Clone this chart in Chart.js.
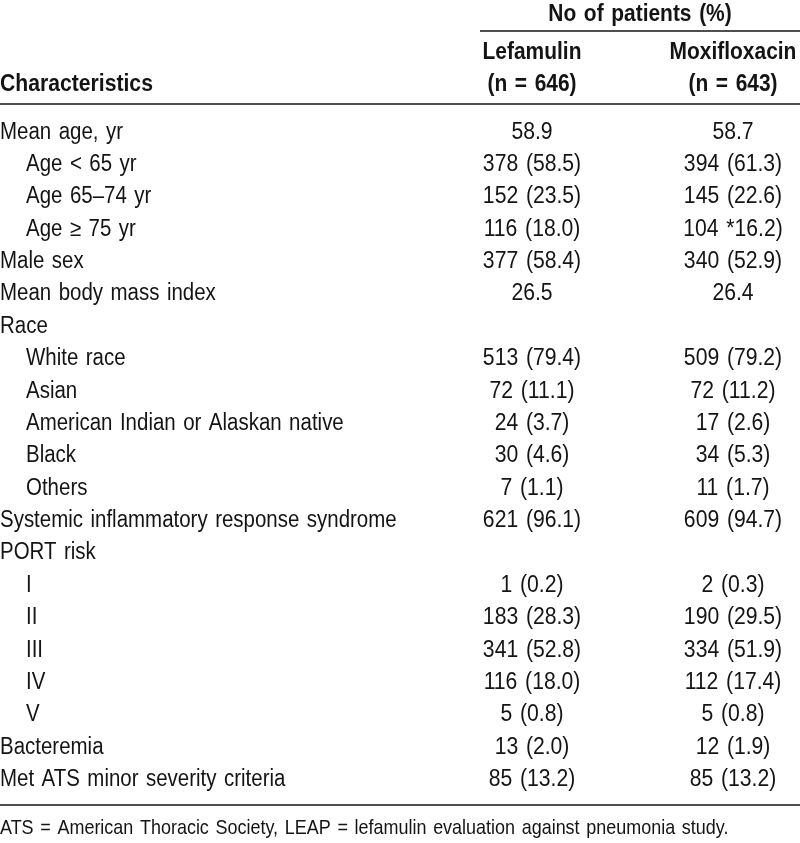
<!DOCTYPE html>
<html>
<head>
<meta charset="utf-8">
<script src="https://cdn.jsdelivr.net/npm/chart.js@4/dist/chart.umd.min.js"></script>
<style>
  html, body { margin: 0; padding: 0; background: #fff; }
  #wrap { width: 800px; height: 843px; position: relative; }
</style>
</head>
<body>
<div id="wrap"><canvas id="tableChart"></canvas></div>
<script>
"use strict"

// row labels (leading spaces = indented sub row)
const rowLabels = [
  'Mean age, yr',
  '  Age < 65 yr',
  '  Age 65–74 yr',
  '  Age ≥ 75 yr',
  'Male sex',
  'Mean body mass index',
  'Race',
  '  White race',
  '  Asian',
  '  American Indian or Alaskan native',
  '  Black',
  '  Others',
  'Systemic inflammatory response syndrome',
  'PORT risk',
  '  I',
  '  II',
  '  III',
  '  IV',
  '  V',
  'Bacteremia',
  'Met ATS minor severity criteria'
];

const lefamulin = [
  '58.9', '378 (58.5)', '152 (23.5)', '116 (18.0)', '377 (58.4)', '26.5',
  '', '513 (79.4)', '72 (11.1)', '24 (3.7)', '30 (4.6)', '7 (1.1)',
  '621 (96.1)', '', '1 (0.2)', '183 (28.3)', '341 (52.8)', '116 (18.0)', '5 (0.8)',
  '13 (2.0)', '85 (13.2)'
];

const moxifloxacin = [
  '58.7', '394 (61.3)', '145 (22.6)', '104 *16.2)', '340 (52.9)', '26.4',
  '', '509 (79.2)', '72 (11.2)', '17 (2.6)', '34 (5.3)', '11 (1.7)',
  '609 (94.7)', '', '2 (0.3)', '190 (29.5)', '334 (51.9)', '112 (17.4)', '5 (0.8)',
  '12 (1.9)', '85 (13.2)'
];

const groupTitle = 'No of patients (%)';
const columnNames = ['Lefamulin', 'Moxifloxacin'];
const columnCounts = ['(n = 646)', '(n = 643)'];
const stubTitle = 'Characteristics';
const footnote = 'ATS = American Thoracic Society, LEAP = lefamulin evaluation against pneumonia study.';

const FONT = '"Liberation Sans", Arial, sans-serif';
const INK = '#141414';

const toPoints = (col, values) => values.map((v, i) => ({ x: col, y: rowLabels[i], text: v }));

// Arial squeezed sideways, close to the condensed face of the original
function narrowText(ctx, text, x, y, align, squeeze) {
  ctx.save();
  ctx.translate(x, y);
  ctx.scale(squeeze, 1);
  ctx.textAlign = align;
  ctx.fillText(text, 0, 0);
  ctx.restore();
}

const tablePlugin = {
  id: 'tableText',
  afterDatasetsDraw(chart) {
    const ctx = chart.ctx;
    const ys = chart.scales.y;
    ctx.save();
    ctx.fillStyle = INK;
    ctx.font = '23px ' + FONT;
    ctx.textBaseline = 'middle';
    try { ctx.wordSpacing = '2px'; } catch (e) {}

    // stub column
    rowLabels.forEach((label, i) => {
      const sub = label.startsWith(' ');
      narrowText(ctx, label.trim(), sub ? 26 : 0, ys.getPixelForValue(i) + 1, 'left', 0.89);
    });

    // cells
    chart.data.datasets.forEach((ds, di) => {
      chart.getDatasetMeta(di).data.forEach((el, i) => {
        const t = ds.data[i].text;
        if (t) narrowText(ctx, t, el.x, el.y + 1, 'center', 0.92);
      });
    });
    ctx.restore();
  },
  afterDraw(chart) {
    const ctx = chart.ctx;
    const area = chart.chartArea;
    const xs = chart.scales.x;
    const top = area.top;
    ctx.save();
    ctx.fillStyle = INK;
    ctx.strokeStyle = INK;
    ctx.lineWidth = 1.6;

    const line = (x0, x1, y) => {
      ctx.beginPath();
      ctx.moveTo(x0, y);
      ctx.lineTo(x1, y);
      ctx.stroke();
    };
    line(480, area.right, top - 84);
    line(0, area.right, top - 11);
    line(0, area.right, area.bottom + 10);

    // headers
    ctx.font = 'bold 23px ' + FONT;
    ctx.textBaseline = 'middle';
    try { ctx.wordSpacing = '2px'; } catch (e) {}
    narrowText(ctx, groupTitle, (480 + area.right) / 2, top - 100, 'center', 0.91);
    columnNames.forEach((name, i) => {
      const x = xs.getPixelForValue(i);
      narrowText(ctx, name, x, top - 62, 'center', 0.91);
      narrowText(ctx, columnCounts[i], x, top - 30, 'center', 0.91);
    });
    narrowText(ctx, stubTitle, 0, top - 30, 'left', 0.92);

    // footnote
    ctx.font = '21px ' + FONT;
    narrowText(ctx, footnote, 0, area.bottom + 33, 'left', 0.855);
    ctx.restore();
  }
};

new Chart(document.getElementById('tableChart'), {
  type: 'scatter',
  data: {
    datasets: [
      { label: columnNames[0], data: toPoints(0, lefamulin), pointRadius: 0, pointHoverRadius: 0 },
      { label: columnNames[1], data: toPoints(1, moxifloxacin), pointRadius: 0, pointHoverRadius: 0 }
    ]
  },
  options: {
    responsive: true,
    maintainAspectRatio: false,
    animation: false,
    layout: { padding: { top: 115, bottom: 48, left: 0, right: 0 } },
    plugins: { legend: { display: false }, tooltip: { enabled: false } },
    scales: {
      x: {
        type: 'linear',
        display: false,
        min: -0.3085,
        max: 1.3333
      },
      y: {
        type: 'category',
        labels: rowLabels,
        offset: true,
        grid: { display: false },
        border: { display: false },
        afterFit(scale) { scale.width = 470; },
        ticks: { display: false, autoSkip: false }
      }
    }
  },
  plugins: [tablePlugin]
});
</script>
</body>
</html>
